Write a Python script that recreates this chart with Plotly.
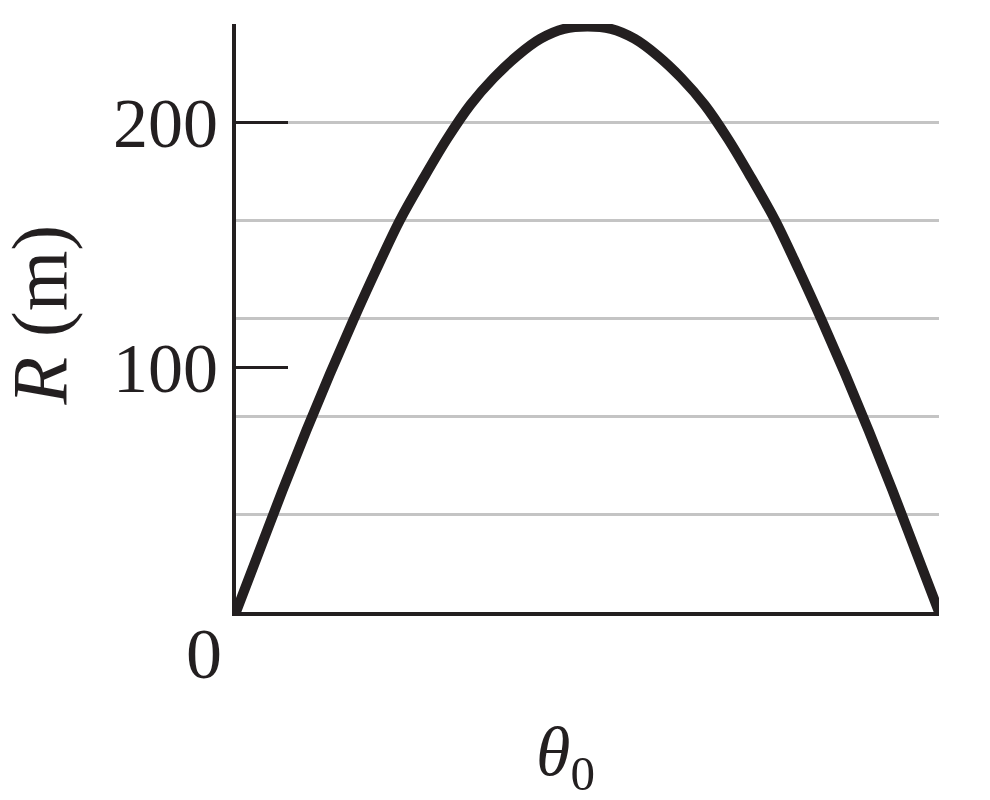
import plotly.graph_objects as go

# launch angle (deg) and range (m)
theta0 = [0, 3, 6, 9, 12, 15, 18, 21, 24, 27, 30, 33, 36, 39, 42, 45,
          48, 51, 54, 57, 60, 63, 66, 69, 72, 75, 78, 81, 84, 87, 90]
range_m = [0, 25, 50, 74, 97, 119, 140, 160, 177, 193, 207, 218, 227, 234, 238, 239,
           238, 234, 227, 218, 207, 193, 177, 160, 140, 119, 97, 74, 50, 25, 0]

y_ticks = [100, 200]
y_labels = ['100', '200']

INK = '#231f20'
GRID = '#c4c4c4'
FONT = 'Liberation Serif'

fig = go.Figure()
fig.add_trace(go.Scatter(
    x=theta0, y=range_m,
    mode='lines',
    line=dict(color=INK, width=10, shape='spline'),
    cliponaxis=False,
    hoverinfo='skip',
))

# the page body has a small margin, so the figure is a bit smaller and shifted
fig.update_layout(
    width=974, height=784,
    paper_bgcolor='white', plot_bgcolor='white',
    margin=dict(l=228, r=43, t=16, b=180),
    showlegend=False,
    font=dict(family=FONT, size=70, color=INK),
    xaxis=dict(
        range=[0, 90], showgrid=False, zeroline=False,
        showticklabels=False, ticks='',
        showline=True, linecolor=INK, linewidth=4,
    ),
    yaxis=dict(
        range=[0, 240], zeroline=False,
        tickvals=y_ticks, ticktext=y_labels,
        ticks='inside', ticklen=52, tickwidth=3, tickcolor=INK,
        ticklabelstandoff=0,
        showgrid=False,
        minor=dict(dtick=40, tick0=0, showgrid=True, gridcolor=GRID, gridwidth=3, ticks=''),
        showline=True, linecolor=INK, linewidth=4,
    ),
    # grey frame on the top and right
    xaxis2=dict(overlaying='x', side='top', range=[0, 90], showline=True,
                linecolor=GRID, linewidth=3, showticklabels=False, ticks='', showgrid=False,
                zeroline=False),
    yaxis2=dict(overlaying='y', side='right', range=[0, 240], showline=True,
                linecolor=GRID, linewidth=3, showticklabels=False, ticks='', showgrid=False,
                zeroline=False),
    annotations=[
        dict(text='0', x=0, y=0, xref='x', yref='y', xanchor='right', yanchor='top',
             xshift=-12, yshift=0, showarrow=False, font=dict(size=72)),
        dict(text='<i>θ</i><sub>0</sub>', x=0.5, y=0, xref='paper', yref='paper',
             xanchor='center', yanchor='top', xshift=-22, yshift=-99, showarrow=False,
             font=dict(size=70)),
        dict(text='<i>R</i> (m)', x=0, y=0.5, xref='paper', yref='paper', textangle=-90,
             xanchor='right', yanchor='middle', xshift=-152, yshift=3, showarrow=False,
             font=dict(size=78)),
    ],
)

fig.write_html('out.html')
